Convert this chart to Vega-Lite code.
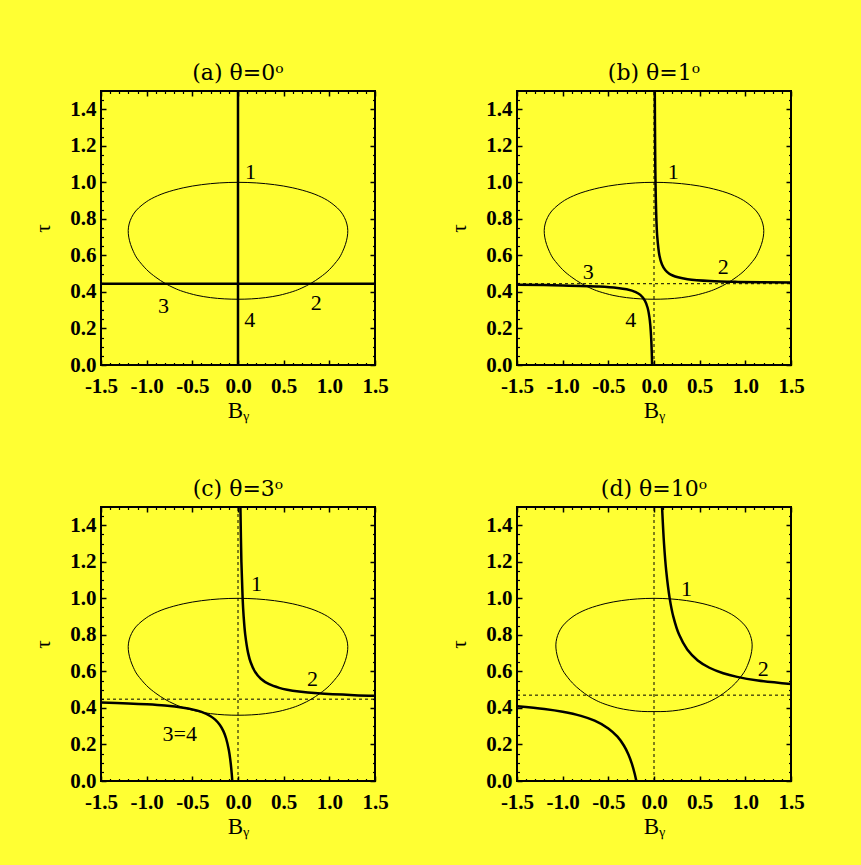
{
"$schema":"https://vega.github.io/schema/vega-lite/v6.json",
"background":"#FFFF33",
"padding":{"left":31,"top":61,"right":80,"bottom":80},
"config":{
 "view":{"stroke":"black","strokeWidth":2},
 "axis":{"grid":false,"domain":false,"tickColor":"black","labelColor":"black","titleColor":"black","labelFont":"Liberation Serif","titleFont":"Liberation Serif"},
 "title":{"font":"DejaVu Serif","fontSize":22,"fontWeight":"normal","color":"black","offset":5},
 "text":{"font":"Liberation Serif","fontSize":22,"color":"black","align":"center","baseline":"middle"}
},
"datasets":{
 "oval":[
  {"i":0,"B":0,"t":1.0},{"i":1,"B":0.2,"t":0.9968},{"i":2,"B":0.4,"t":0.9871},{"i":3,"B":0.6,"t":0.9699},{"i":4,"B":0.8,"t":0.9423},{"i":5,"B":0.95,"t":0.9098},{"i":6,"B":1.05,"t":0.876},{"i":7,"B":1.12,"t":0.843},{"i":8,"B":1.165,"t":0.808},{"i":9,"B":1.192,"t":0.772},{"i":10,"B":1.202,"t":0.737},{"i":11,"B":1.196,"t":0.70},{"i":12,"B":1.176,"t":0.66},{"i":13,"B":1.144,"t":0.62},{"i":14,"B":1.0996,"t":0.58},{"i":15,"B":1.0,"t":0.5219},{"i":16,"B":0.9,"t":0.4803},{"i":17,"B":0.8,"t":0.4474},{"i":18,"B":0.7,"t":0.4217},{"i":19,"B":0.6,"t":0.402},{"i":20,"B":0.45,"t":0.3814},{"i":21,"B":0.3,"t":0.3688},{"i":22,"B":0.15,"t":0.3621},{"i":23,"B":0,"t":0.36},
  {"i":24,"B":-0.15,"t":0.3621},{"i":25,"B":-0.3,"t":0.3688},{"i":26,"B":-0.45,"t":0.3814},{"i":27,"B":-0.6,"t":0.402},{"i":28,"B":-0.7,"t":0.4217},{"i":29,"B":-0.8,"t":0.4474},{"i":30,"B":-0.9,"t":0.4803},{"i":31,"B":-1.0,"t":0.5219},{"i":32,"B":-1.0996,"t":0.58},{"i":33,"B":-1.144,"t":0.62},{"i":34,"B":-1.176,"t":0.66},{"i":35,"B":-1.196,"t":0.70},{"i":36,"B":-1.202,"t":0.737},{"i":37,"B":-1.192,"t":0.772},{"i":38,"B":-1.165,"t":0.808},{"i":39,"B":-1.12,"t":0.843},{"i":40,"B":-1.05,"t":0.876},{"i":41,"B":-0.95,"t":0.9098},{"i":42,"B":-0.8,"t":0.9423},{"i":43,"B":-0.6,"t":0.9699},{"i":44,"B":-0.4,"t":0.9871},{"i":45,"B":-0.2,"t":0.9968}
 ],
 "ovald":[
  {"i":0,"B":0,"t":1.0},{"i":1,"B":0.179,"t":0.9969},{"i":2,"B":0.358,"t":0.9875},{"i":3,"B":0.536,"t":0.9708},{"i":4,"B":0.715,"t":0.9441},{"i":5,"B":0.849,"t":0.9126},{"i":6,"B":0.9387,"t":0.8799},{"i":7,"B":1.0013,"t":0.8479},{"i":8,"B":1.0415,"t":0.814},{"i":9,"B":1.0656,"t":0.7791},{"i":10,"B":1.0746,"t":0.7452},{"i":11,"B":1.0692,"t":0.7094},{"i":12,"B":1.0513,"t":0.6706},{"i":13,"B":1.0227,"t":0.6319},{"i":14,"B":0.983,"t":0.5931},{"i":15,"B":0.894,"t":0.5369},{"i":16,"B":0.805,"t":0.4965},{"i":17,"B":0.715,"t":0.4641},{"i":18,"B":0.626,"t":0.4393},{"i":19,"B":0.536,"t":0.4206},{"i":20,"B":0.402,"t":0.4004},{"i":21,"B":0.268,"t":0.3878},{"i":22,"B":0.134,"t":0.3809},{"i":23,"B":0,"t":0.38},
  {"i":24,"B":-0.134,"t":0.3809},{"i":25,"B":-0.268,"t":0.3878},{"i":26,"B":-0.402,"t":0.4004},{"i":27,"B":-0.536,"t":0.4206},{"i":28,"B":-0.626,"t":0.4393},{"i":29,"B":-0.715,"t":0.4641},{"i":30,"B":-0.805,"t":0.4965},{"i":31,"B":-0.894,"t":0.5369},{"i":32,"B":-0.983,"t":0.5931},{"i":33,"B":-1.0227,"t":0.6319},{"i":34,"B":-1.0513,"t":0.6706},{"i":35,"B":-1.0692,"t":0.7094},{"i":36,"B":-1.0746,"t":0.7452},{"i":37,"B":-1.0656,"t":0.7791},{"i":38,"B":-1.0415,"t":0.814},{"i":39,"B":-1.0013,"t":0.8479},{"i":40,"B":-0.9387,"t":0.8799},{"i":41,"B":-0.849,"t":0.9126},{"i":42,"B":-0.715,"t":0.9441},{"i":43,"B":-0.536,"t":0.9708},{"i":44,"B":-0.358,"t":0.9875},{"i":45,"B":-0.179,"t":0.9969}
 ],
 "thick":[
  {"p":"a","g":"u","B":0,"t":0},{"p":"a","g":"u","B":0,"t":1.5},
  {"p":"a","g":"l","B":-1.5,"t":0.445},{"p":"a","g":"l","B":1.5,"t":0.445},
  {"p":"b","g":"u","B":0.0087,"t":1.5},{"p":"b","g":"u","B":0.0122,"t":1.2},{"p":"b","g":"u","B":0.0166,"t":1.0},{"p":"b","g":"u","B":0.0259,"t":0.8},{"p":"b","g":"u","B":0.0361,"t":0.7},{"p":"b","g":"u","B":0.0594,"t":0.6},{"p":"b","g":"u","B":0.0876,"t":0.55},{"p":"b","g":"u","B":0.1227,"t":0.52},{"p":"b","g":"u","B":0.1673,"t":0.50},{"p":"b","g":"u","B":0.2044,"t":0.49},{"p":"b","g":"u","B":0.263,"t":0.48},{"p":"b","g":"u","B":0.368,"t":0.47},{"p":"b","g":"u","B":0.613,"t":0.46},{"p":"b","g":"u","B":0.92,"t":0.455},{"p":"b","g":"u","B":1.5,"t":0.4511},
  {"p":"b","g":"l","B":-1.5,"t":0.4389},{"p":"b","g":"l","B":-1.0,"t":0.4358},{"p":"b","g":"l","B":-0.6,"t":0.4297},{"p":"b","g":"l","B":-0.4,"t":0.422},{"p":"b","g":"l","B":-0.3,"t":0.4143},{"p":"b","g":"l","B":-0.2,"t":0.399},{"p":"b","g":"l","B":-0.15,"t":0.3837},{"p":"b","g":"l","B":-0.1,"t":0.353},{"p":"b","g":"l","B":-0.07,"t":0.3136},{"p":"b","g":"l","B":-0.05,"t":0.261},{"p":"b","g":"l","B":-0.04,"t":0.215},{"p":"b","g":"l","B":-0.03,"t":0.138},{"p":"b","g":"l","B":-0.025,"t":0.077},{"p":"b","g":"l","B":-0.0207,"t":0},
  {"p":"c","g":"u","B":0.0266,"t":1.5},{"p":"c","g":"u","B":0.0372,"t":1.2},{"p":"c","g":"u","B":0.0507,"t":1.0},{"p":"c","g":"u","B":0.0619,"t":0.9},{"p":"c","g":"u","B":0.0795,"t":0.8},{"p":"c","g":"u","B":0.111,"t":0.7},{"p":"c","g":"u","B":0.1386,"t":0.65},{"p":"c","g":"u","B":0.184,"t":0.6},{"p":"c","g":"u","B":0.25,"t":0.56},{"p":"c","g":"u","B":0.341,"t":0.53},{"p":"c","g":"u","B":0.452,"t":0.51},{"p":"c","g":"u","B":0.538,"t":0.50},{"p":"c","g":"u","B":0.667,"t":0.49},{"p":"c","g":"u","B":0.875,"t":0.48},{"p":"c","g":"u","B":1.273,"t":0.47},{"p":"c","g":"u","B":1.5,"t":0.4667},
  {"p":"c","g":"l","B":-1.5,"t":0.4293},{"p":"c","g":"l","B":-1.2,"t":0.4247},{"p":"c","g":"l","B":-1.0,"t":0.42},{"p":"c","g":"l","B":-0.8,"t":0.413},{"p":"c","g":"l","B":-0.6,"t":0.4013},{"p":"c","g":"l","B":-0.5,"t":0.392},{"p":"c","g":"l","B":-0.4,"t":0.378},{"p":"c","g":"l","B":-0.3,"t":0.3547},{"p":"c","g":"l","B":-0.25,"t":0.336},{"p":"c","g":"l","B":-0.2,"t":0.308},{"p":"c","g":"l","B":-0.16,"t":0.273},{"p":"c","g":"l","B":-0.13,"t":0.2326},{"p":"c","g":"l","B":-0.1,"t":0.168},{"p":"c","g":"l","B":-0.085,"t":0.1186},{"p":"c","g":"l","B":-0.075,"t":0.0747},{"p":"c","g":"l","B":-0.068,"t":0.0362},{"p":"c","g":"l","B":-0.0625,"t":0},
  {"p":"d","g":"u","B":0.0883,"t":1.5},{"p":"d","g":"u","B":0.1096,"t":1.3},{"p":"d","g":"u","B":0.1338,"t":1.15},{"p":"d","g":"u","B":0.1717,"t":1.0},{"p":"d","g":"u","B":0.2116,"t":0.9},{"p":"d","g":"u","B":0.2758,"t":0.8},{"p":"d","g":"u","B":0.364,"t":0.72},{"p":"d","g":"u","B":0.479,"t":0.66},{"p":"d","g":"u","B":0.607,"t":0.62},{"p":"d","g":"u","B":0.758,"t":0.59},{"p":"d","g":"u","B":0.91,"t":0.57},{"p":"d","g":"u","B":1.1375,"t":0.55},{"p":"d","g":"u","B":1.5,"t":0.5307},
  {"p":"d","g":"l","B":-1.5,"t":0.4093},{"p":"d","g":"l","B":-1.2,"t":0.3942},{"p":"d","g":"l","B":-1.0,"t":0.379},{"p":"d","g":"l","B":-0.8,"t":0.3563},{"p":"d","g":"l","B":-0.65,"t":0.33},{"p":"d","g":"l","B":-0.5,"t":0.288},{"p":"d","g":"l","B":-0.4,"t":0.2425},{"p":"d","g":"l","B":-0.33,"t":0.1942},{"p":"d","g":"l","B":-0.28,"t":0.145},{"p":"d","g":"l","B":-0.24,"t":0.0908},{"p":"d","g":"l","B":-0.21,"t":0.0367},{"p":"d","g":"l","B":-0.1936,"t":0}
 ],
 "dash":[
  {"p":"b","g":"v","B":0,"t":0},{"p":"b","g":"v","B":0,"t":1.5},{"p":"b","g":"h","B":-1.5,"t":0.445},{"p":"b","g":"h","B":1.5,"t":0.445},
  {"p":"c","g":"v","B":0,"t":0},{"p":"c","g":"v","B":0,"t":1.5},{"p":"c","g":"h","B":-1.5,"t":0.448},{"p":"c","g":"h","B":1.5,"t":0.448},
  {"p":"d","g":"v","B":0,"t":0},{"p":"d","g":"v","B":0,"t":1.5},{"p":"d","g":"h","B":-1.5,"t":0.47},{"p":"d","g":"h","B":1.5,"t":0.47}
 ],
 "lab":[
  {"p":"a","s":"1","B":0.136,"t":1.058},{"p":"a","s":"2","B":0.856,"t":0.338},{"p":"a","s":"3","B":-0.816,"t":0.323},{"p":"a","s":"4","B":0.129,"t":0.246},
  {"p":"b","s":"1","B":0.21,"t":1.058},{"p":"b","s":"2","B":0.759,"t":0.538},{"p":"b","s":"3","B":-0.72,"t":0.51},{"p":"b","s":"4","B":-0.254,"t":0.246},
  {"p":"c","s":"1","B":0.202,"t":1.076},{"p":"c","s":"2","B":0.816,"t":0.558},{"p":"c","s":"3=4","B":-0.638,"t":0.256},
  {"p":"d","s":"1","B":0.356,"t":1.052},{"p":"d","s":"2","B":1.197,"t":0.613}
 ]
},
"columns":2,
"spacing":{"row":142,"column":142},
"bounds":"flush",
"concat":[
  {"width":274,"height":274,"title":"(a) θ=0ᵒ","resolve":{"axis":{"x":"independent","y":"independent"}},
   "layer":[
    {"data":{"name":"oval"},"mark":{"type":"line","interpolate":"cardinal-closed","stroke":"black","strokeWidth":1,"clip":true},
     "encoding":{"x":{"field":"B","type":"quantitative","scale":{"domain":[-1.5,1.5],"nice":false,"zero":false},"axis":{"orient":"bottom","values":[-1.5,-1,-0.5,0,0.5,1,1.5],"labelExpr":"replace(format(datum.value,'.1f'),'\u2212','-')","ticks":false,"labelFontSize":21,"labelFontWeight":"bold","labelPadding":10,"labelOverlap":false,"labelFlush":false,"title":"Bᵧ","titleFontSize":23,"titleFontWeight":"normal","titlePadding":3}},
      "y":{"field":"t","type":"quantitative","scale":{"domain":[0,1.5],"nice":false,"zero":false},"axis":{"orient":"left","values":[0,0.2,0.4,0.6,0.8,1,1.2,1.4],"format":".1f","ticks":false,"labelFontSize":21,"labelFontWeight":"bold","labelPadding":5,"labelOverlap":false,"labelFlush":false,"title":"τ","titleFontSize":21,"titleFontWeight":"normal","titlePadding":16}},
      "order":{"field":"i","type":"quantitative"}}},
    {"data":{"name":"thick"},"transform":[{"filter":"datum.p=='a' && datum.g=='u'"}],"mark":{"type":"line","interpolate":"catmull-rom","stroke":"black","strokeWidth":2.5,"clip":true},
     "encoding":{"x":{"field":"B","type":"quantitative","axis":{"orient":"bottom","values":[-1.5,-1,-0.5,0,0.5,1,1.5],"labels":false,"ticks":true,"tickSize":-5,"tickWidth":1.5,"title":null}},
      "y":{"field":"t","type":"quantitative","axis":{"orient":"left","values":[0,0.2,0.4,0.6,0.8,1,1.2,1.4],"labels":false,"ticks":true,"tickSize":-5,"tickWidth":1.5,"title":null}}}},
    {"data":{"name":"thick"},"transform":[{"filter":"datum.p=='a' && datum.g=='l'"}],"mark":{"type":"line","interpolate":"catmull-rom","stroke":"black","strokeWidth":2.5,"clip":true},
     "encoding":{"x":{"field":"B","type":"quantitative","axis":{"orient":"top","values":[-1.5,-1,-0.5,0,0.5,1,1.5],"labels":false,"ticks":true,"tickSize":-5,"tickWidth":1.5,"title":null}},
      "y":{"field":"t","type":"quantitative","axis":{"orient":"right","values":[0,0.2,0.4,0.6,0.8,1,1.2,1.4],"labels":false,"ticks":true,"tickSize":-5,"tickWidth":1.5,"title":null}}}},
    {"data":{"name":"dash"},"transform":[{"filter":"datum.p=='a'"}],"mark":{"type":"line","stroke":"black","strokeWidth":1,"strokeDash":[3,3],"clip":true},
     "encoding":{"x":{"field":"B","type":"quantitative","axis":{"orient":"bottom","values":[-1.4,-1.3,-1.2,-1.1,-0.9,-0.8,-0.7,-0.6,-0.4,-0.3,-0.2,-0.1,0.1,0.2,0.3,0.4,0.6,0.7,0.8,0.9,1.1,1.2,1.3,1.4],"labels":false,"ticks":true,"tickSize":-2.5,"tickWidth":1.2,"title":null}},
      "y":{"field":"t","type":"quantitative","axis":{"orient":"left","values":[0.05,0.1,0.15,0.25,0.3,0.35,0.45,0.5,0.55,0.65,0.7,0.75,0.85,0.9,0.95,1.05,1.1,1.15,1.25,1.3,1.35,1.45],"labels":false,"ticks":true,"tickSize":-2.5,"tickWidth":1.2,"title":null}},
      "detail":{"field":"g"}}},
    {"data":{"name":"lab"},"transform":[{"filter":"datum.p=='a'"}],"mark":{"type":"text"},
     "encoding":{"x":{"field":"B","type":"quantitative","axis":{"orient":"top","values":[-1.4,-1.3,-1.2,-1.1,-0.9,-0.8,-0.7,-0.6,-0.4,-0.3,-0.2,-0.1,0.1,0.2,0.3,0.4,0.6,0.7,0.8,0.9,1.1,1.2,1.3,1.4],"labels":false,"ticks":true,"tickSize":-2.5,"tickWidth":1.2,"title":null}},
      "y":{"field":"t","type":"quantitative","axis":{"orient":"right","values":[0.05,0.1,0.15,0.25,0.3,0.35,0.45,0.5,0.55,0.65,0.7,0.75,0.85,0.9,0.95,1.05,1.1,1.15,1.25,1.3,1.35,1.45],"labels":false,"ticks":true,"tickSize":-2.5,"tickWidth":1.2,"title":null}},
      "text":{"field":"s","type":"nominal"}}}
   ]},
  {"width":274,"height":274,"title":"(b) θ=1ᵒ","resolve":{"axis":{"x":"independent","y":"independent"}},
   "layer":[
    {"data":{"name":"oval"},"mark":{"type":"line","interpolate":"cardinal-closed","stroke":"black","strokeWidth":1,"clip":true},
     "encoding":{"x":{"field":"B","type":"quantitative","scale":{"domain":[-1.5,1.5],"nice":false,"zero":false},"axis":{"orient":"bottom","values":[-1.5,-1,-0.5,0,0.5,1,1.5],"labelExpr":"replace(format(datum.value,'.1f'),'\u2212','-')","ticks":false,"labelFontSize":21,"labelFontWeight":"bold","labelPadding":10,"labelOverlap":false,"labelFlush":false,"title":"Bᵧ","titleFontSize":23,"titleFontWeight":"normal","titlePadding":3}},
      "y":{"field":"t","type":"quantitative","scale":{"domain":[0,1.5],"nice":false,"zero":false},"axis":{"orient":"left","values":[0,0.2,0.4,0.6,0.8,1,1.2,1.4],"format":".1f","ticks":false,"labelFontSize":21,"labelFontWeight":"bold","labelPadding":5,"labelOverlap":false,"labelFlush":false,"title":"τ","titleFontSize":21,"titleFontWeight":"normal","titlePadding":16}},
      "order":{"field":"i","type":"quantitative"}}},
    {"data":{"name":"thick"},"transform":[{"filter":"datum.p=='b' && datum.g=='u'"}],"mark":{"type":"line","interpolate":"catmull-rom","stroke":"black","strokeWidth":2.5,"clip":true},
     "encoding":{"x":{"field":"B","type":"quantitative","axis":{"orient":"bottom","values":[-1.5,-1,-0.5,0,0.5,1,1.5],"labels":false,"ticks":true,"tickSize":-5,"tickWidth":1.5,"title":null}},
      "y":{"field":"t","type":"quantitative","axis":{"orient":"left","values":[0,0.2,0.4,0.6,0.8,1,1.2,1.4],"labels":false,"ticks":true,"tickSize":-5,"tickWidth":1.5,"title":null}}}},
    {"data":{"name":"thick"},"transform":[{"filter":"datum.p=='b' && datum.g=='l'"}],"mark":{"type":"line","interpolate":"catmull-rom","stroke":"black","strokeWidth":2.5,"clip":true},
     "encoding":{"x":{"field":"B","type":"quantitative","axis":{"orient":"top","values":[-1.5,-1,-0.5,0,0.5,1,1.5],"labels":false,"ticks":true,"tickSize":-5,"tickWidth":1.5,"title":null}},
      "y":{"field":"t","type":"quantitative","axis":{"orient":"right","values":[0,0.2,0.4,0.6,0.8,1,1.2,1.4],"labels":false,"ticks":true,"tickSize":-5,"tickWidth":1.5,"title":null}}}},
    {"data":{"name":"dash"},"transform":[{"filter":"datum.p=='b'"}],"mark":{"type":"line","stroke":"black","strokeWidth":1,"strokeDash":[3,3],"clip":true},
     "encoding":{"x":{"field":"B","type":"quantitative","axis":{"orient":"bottom","values":[-1.4,-1.3,-1.2,-1.1,-0.9,-0.8,-0.7,-0.6,-0.4,-0.3,-0.2,-0.1,0.1,0.2,0.3,0.4,0.6,0.7,0.8,0.9,1.1,1.2,1.3,1.4],"labels":false,"ticks":true,"tickSize":-2.5,"tickWidth":1.2,"title":null}},
      "y":{"field":"t","type":"quantitative","axis":{"orient":"left","values":[0.05,0.1,0.15,0.25,0.3,0.35,0.45,0.5,0.55,0.65,0.7,0.75,0.85,0.9,0.95,1.05,1.1,1.15,1.25,1.3,1.35,1.45],"labels":false,"ticks":true,"tickSize":-2.5,"tickWidth":1.2,"title":null}},
      "detail":{"field":"g"}}},
    {"data":{"name":"lab"},"transform":[{"filter":"datum.p=='b'"}],"mark":{"type":"text"},
     "encoding":{"x":{"field":"B","type":"quantitative","axis":{"orient":"top","values":[-1.4,-1.3,-1.2,-1.1,-0.9,-0.8,-0.7,-0.6,-0.4,-0.3,-0.2,-0.1,0.1,0.2,0.3,0.4,0.6,0.7,0.8,0.9,1.1,1.2,1.3,1.4],"labels":false,"ticks":true,"tickSize":-2.5,"tickWidth":1.2,"title":null}},
      "y":{"field":"t","type":"quantitative","axis":{"orient":"right","values":[0.05,0.1,0.15,0.25,0.3,0.35,0.45,0.5,0.55,0.65,0.7,0.75,0.85,0.9,0.95,1.05,1.1,1.15,1.25,1.3,1.35,1.45],"labels":false,"ticks":true,"tickSize":-2.5,"tickWidth":1.2,"title":null}},
      "text":{"field":"s","type":"nominal"}}}
   ]},
  {"width":274,"height":274,"title":"(c) θ=3ᵒ","resolve":{"axis":{"x":"independent","y":"independent"}},
   "layer":[
    {"data":{"name":"oval"},"mark":{"type":"line","interpolate":"cardinal-closed","stroke":"black","strokeWidth":1,"clip":true},
     "encoding":{"x":{"field":"B","type":"quantitative","scale":{"domain":[-1.5,1.5],"nice":false,"zero":false},"axis":{"orient":"bottom","values":[-1.5,-1,-0.5,0,0.5,1,1.5],"labelExpr":"replace(format(datum.value,'.1f'),'\u2212','-')","ticks":false,"labelFontSize":21,"labelFontWeight":"bold","labelPadding":10,"labelOverlap":false,"labelFlush":false,"title":"Bᵧ","titleFontSize":23,"titleFontWeight":"normal","titlePadding":3}},
      "y":{"field":"t","type":"quantitative","scale":{"domain":[0,1.5],"nice":false,"zero":false},"axis":{"orient":"left","values":[0,0.2,0.4,0.6,0.8,1,1.2,1.4],"format":".1f","ticks":false,"labelFontSize":21,"labelFontWeight":"bold","labelPadding":5,"labelOverlap":false,"labelFlush":false,"title":"τ","titleFontSize":21,"titleFontWeight":"normal","titlePadding":16}},
      "order":{"field":"i","type":"quantitative"}}},
    {"data":{"name":"thick"},"transform":[{"filter":"datum.p=='c' && datum.g=='u'"}],"mark":{"type":"line","interpolate":"catmull-rom","stroke":"black","strokeWidth":2.5,"clip":true},
     "encoding":{"x":{"field":"B","type":"quantitative","axis":{"orient":"bottom","values":[-1.5,-1,-0.5,0,0.5,1,1.5],"labels":false,"ticks":true,"tickSize":-5,"tickWidth":1.5,"title":null}},
      "y":{"field":"t","type":"quantitative","axis":{"orient":"left","values":[0,0.2,0.4,0.6,0.8,1,1.2,1.4],"labels":false,"ticks":true,"tickSize":-5,"tickWidth":1.5,"title":null}}}},
    {"data":{"name":"thick"},"transform":[{"filter":"datum.p=='c' && datum.g=='l'"}],"mark":{"type":"line","interpolate":"catmull-rom","stroke":"black","strokeWidth":2.5,"clip":true},
     "encoding":{"x":{"field":"B","type":"quantitative","axis":{"orient":"top","values":[-1.5,-1,-0.5,0,0.5,1,1.5],"labels":false,"ticks":true,"tickSize":-5,"tickWidth":1.5,"title":null}},
      "y":{"field":"t","type":"quantitative","axis":{"orient":"right","values":[0,0.2,0.4,0.6,0.8,1,1.2,1.4],"labels":false,"ticks":true,"tickSize":-5,"tickWidth":1.5,"title":null}}}},
    {"data":{"name":"dash"},"transform":[{"filter":"datum.p=='c'"}],"mark":{"type":"line","stroke":"black","strokeWidth":1,"strokeDash":[3,3],"clip":true},
     "encoding":{"x":{"field":"B","type":"quantitative","axis":{"orient":"bottom","values":[-1.4,-1.3,-1.2,-1.1,-0.9,-0.8,-0.7,-0.6,-0.4,-0.3,-0.2,-0.1,0.1,0.2,0.3,0.4,0.6,0.7,0.8,0.9,1.1,1.2,1.3,1.4],"labels":false,"ticks":true,"tickSize":-2.5,"tickWidth":1.2,"title":null}},
      "y":{"field":"t","type":"quantitative","axis":{"orient":"left","values":[0.05,0.1,0.15,0.25,0.3,0.35,0.45,0.5,0.55,0.65,0.7,0.75,0.85,0.9,0.95,1.05,1.1,1.15,1.25,1.3,1.35,1.45],"labels":false,"ticks":true,"tickSize":-2.5,"tickWidth":1.2,"title":null}},
      "detail":{"field":"g"}}},
    {"data":{"name":"lab"},"transform":[{"filter":"datum.p=='c'"}],"mark":{"type":"text"},
     "encoding":{"x":{"field":"B","type":"quantitative","axis":{"orient":"top","values":[-1.4,-1.3,-1.2,-1.1,-0.9,-0.8,-0.7,-0.6,-0.4,-0.3,-0.2,-0.1,0.1,0.2,0.3,0.4,0.6,0.7,0.8,0.9,1.1,1.2,1.3,1.4],"labels":false,"ticks":true,"tickSize":-2.5,"tickWidth":1.2,"title":null}},
      "y":{"field":"t","type":"quantitative","axis":{"orient":"right","values":[0.05,0.1,0.15,0.25,0.3,0.35,0.45,0.5,0.55,0.65,0.7,0.75,0.85,0.9,0.95,1.05,1.1,1.15,1.25,1.3,1.35,1.45],"labels":false,"ticks":true,"tickSize":-2.5,"tickWidth":1.2,"title":null}},
      "text":{"field":"s","type":"nominal"}}}
   ]},
  {"width":274,"height":274,"title":"(d) θ=10ᵒ","resolve":{"axis":{"x":"independent","y":"independent"}},
   "layer":[
    {"data":{"name":"ovald"},"mark":{"type":"line","interpolate":"cardinal-closed","stroke":"black","strokeWidth":1,"clip":true},
     "encoding":{"x":{"field":"B","type":"quantitative","scale":{"domain":[-1.5,1.5],"nice":false,"zero":false},"axis":{"orient":"bottom","values":[-1.5,-1,-0.5,0,0.5,1,1.5],"labelExpr":"replace(format(datum.value,'.1f'),'\u2212','-')","ticks":false,"labelFontSize":21,"labelFontWeight":"bold","labelPadding":10,"labelOverlap":false,"labelFlush":false,"title":"Bᵧ","titleFontSize":23,"titleFontWeight":"normal","titlePadding":3}},
      "y":{"field":"t","type":"quantitative","scale":{"domain":[0,1.5],"nice":false,"zero":false},"axis":{"orient":"left","values":[0,0.2,0.4,0.6,0.8,1,1.2,1.4],"format":".1f","ticks":false,"labelFontSize":21,"labelFontWeight":"bold","labelPadding":5,"labelOverlap":false,"labelFlush":false,"title":"τ","titleFontSize":21,"titleFontWeight":"normal","titlePadding":16}},
      "order":{"field":"i","type":"quantitative"}}},
    {"data":{"name":"thick"},"transform":[{"filter":"datum.p=='d' && datum.g=='u'"}],"mark":{"type":"line","interpolate":"catmull-rom","stroke":"black","strokeWidth":2.5,"clip":true},
     "encoding":{"x":{"field":"B","type":"quantitative","axis":{"orient":"bottom","values":[-1.5,-1,-0.5,0,0.5,1,1.5],"labels":false,"ticks":true,"tickSize":-5,"tickWidth":1.5,"title":null}},
      "y":{"field":"t","type":"quantitative","axis":{"orient":"left","values":[0,0.2,0.4,0.6,0.8,1,1.2,1.4],"labels":false,"ticks":true,"tickSize":-5,"tickWidth":1.5,"title":null}}}},
    {"data":{"name":"thick"},"transform":[{"filter":"datum.p=='d' && datum.g=='l'"}],"mark":{"type":"line","interpolate":"catmull-rom","stroke":"black","strokeWidth":2.5,"clip":true},
     "encoding":{"x":{"field":"B","type":"quantitative","axis":{"orient":"top","values":[-1.5,-1,-0.5,0,0.5,1,1.5],"labels":false,"ticks":true,"tickSize":-5,"tickWidth":1.5,"title":null}},
      "y":{"field":"t","type":"quantitative","axis":{"orient":"right","values":[0,0.2,0.4,0.6,0.8,1,1.2,1.4],"labels":false,"ticks":true,"tickSize":-5,"tickWidth":1.5,"title":null}}}},
    {"data":{"name":"dash"},"transform":[{"filter":"datum.p=='d'"}],"mark":{"type":"line","stroke":"black","strokeWidth":1,"strokeDash":[3,3],"clip":true},
     "encoding":{"x":{"field":"B","type":"quantitative","axis":{"orient":"bottom","values":[-1.4,-1.3,-1.2,-1.1,-0.9,-0.8,-0.7,-0.6,-0.4,-0.3,-0.2,-0.1,0.1,0.2,0.3,0.4,0.6,0.7,0.8,0.9,1.1,1.2,1.3,1.4],"labels":false,"ticks":true,"tickSize":-2.5,"tickWidth":1.2,"title":null}},
      "y":{"field":"t","type":"quantitative","axis":{"orient":"left","values":[0.05,0.1,0.15,0.25,0.3,0.35,0.45,0.5,0.55,0.65,0.7,0.75,0.85,0.9,0.95,1.05,1.1,1.15,1.25,1.3,1.35,1.45],"labels":false,"ticks":true,"tickSize":-2.5,"tickWidth":1.2,"title":null}},
      "detail":{"field":"g"}}},
    {"data":{"name":"lab"},"transform":[{"filter":"datum.p=='d'"}],"mark":{"type":"text"},
     "encoding":{"x":{"field":"B","type":"quantitative","axis":{"orient":"top","values":[-1.4,-1.3,-1.2,-1.1,-0.9,-0.8,-0.7,-0.6,-0.4,-0.3,-0.2,-0.1,0.1,0.2,0.3,0.4,0.6,0.7,0.8,0.9,1.1,1.2,1.3,1.4],"labels":false,"ticks":true,"tickSize":-2.5,"tickWidth":1.2,"title":null}},
      "y":{"field":"t","type":"quantitative","axis":{"orient":"right","values":[0.05,0.1,0.15,0.25,0.3,0.35,0.45,0.5,0.55,0.65,0.7,0.75,0.85,0.9,0.95,1.05,1.1,1.15,1.25,1.3,1.35,1.45],"labels":false,"ticks":true,"tickSize":-2.5,"tickWidth":1.2,"title":null}},
      "text":{"field":"s","type":"nominal"}}}
   ]}
]
}
